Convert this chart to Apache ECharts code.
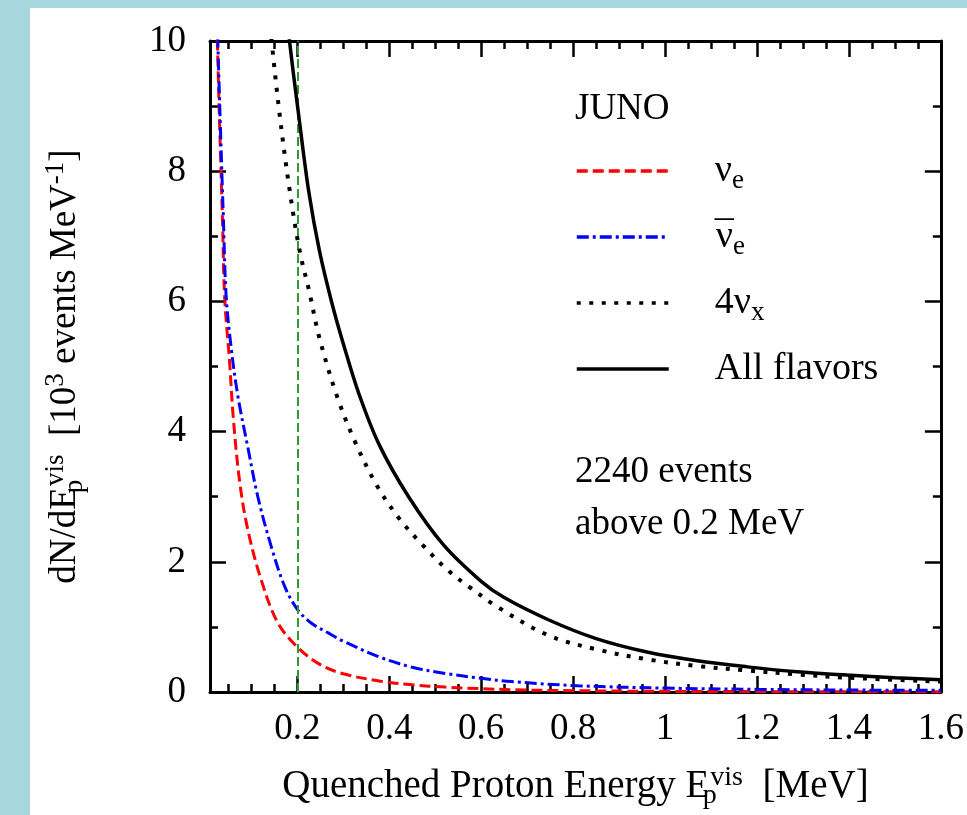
<!DOCTYPE html>
<html>
<head>
<meta charset="utf-8">
<script src="https://cdn.jsdelivr.net/npm/echarts@6/dist/echarts.min.js"></script>
<style>
  html, body { margin: 0; padding: 0; background: #a6d7df; }
  #chart { width: 967px; height: 815px; }
</style>
</head>
<body>
<div id="chart"></div>
<script>
// ---- data ----
const seriesNames = ['νe', 'ν̄e', '4νx', 'All flavors'];

const nueE = [0.021, 0.026, 0.031, 0.037, 0.042, 0.053, 0.060, 0.074, 0.092, 0.121, 0.157, 0.200, 0.250, 0.300, 0.378, 0.450, 0.522, 0.666, 0.800, 1.000, 1.200, 1.400, 1.600];
const nueY = [11.5, 10.0, 8.7, 7.3, 6.05, 5.03, 4.27, 3.26, 2.50, 1.73, 1.07, 0.69, 0.42, 0.28, 0.17, 0.11, 0.075, 0.035, 0.020, 0.010, 0.006, 0.004, 0.003];

const nuebarE = [0.022, 0.027, 0.033, 0.039, 0.045, 0.056, 0.071, 0.092, 0.114, 0.143, 0.172, 0.200, 0.230, 0.269, 0.300, 0.378, 0.450, 0.522, 0.600, 0.666, 0.810, 1.000, 1.200, 1.400, 1.600];
const nuebarY = [11.5, 10.0, 8.6, 7.3, 6.1, 5.29, 4.53, 3.77, 3.00, 2.24, 1.63, 1.27, 1.06, 0.90, 0.78, 0.54, 0.38, 0.285, 0.21, 0.16, 0.096, 0.060, 0.040, 0.030, 0.025];

const nuxE = [0.130, 0.144, 0.161, 0.182, 0.205, 0.226, 0.248, 0.287, 0.327, 0.374, 0.421, 0.471, 0.529, 0.573, 0.637, 0.746, 0.854, 0.963, 1.070, 1.179, 1.287, 1.396, 1.600];
const nuxY = [11.0, 10.0, 8.9, 7.77, 6.78, 6.15, 5.44, 4.53, 3.82, 3.16, 2.67, 2.27, 1.86, 1.62, 1.30, 0.87, 0.65, 0.50, 0.40, 0.33, 0.27, 0.22, 0.16];

const allE = [0.170, 0.183, 0.204, 0.225, 0.248, 0.275, 0.300, 0.334, 0.378, 0.442, 0.518, 0.600, 0.650, 0.746, 0.850, 0.963, 1.070, 1.179, 1.287, 1.396, 1.500, 1.600];
const allY = [10.9, 10.0, 8.8, 7.68, 6.78, 5.98, 5.35, 4.58, 3.80, 3.00, 2.26, 1.70, 1.45, 1.11, 0.82, 0.61, 0.48, 0.386, 0.31, 0.26, 0.22, 0.19];

const thresholdE = 0.2;

const xMajorTicks = [0.2, 0.4, 0.6, 0.8, 1.0, 1.2, 1.4, 1.6];
const xMinorTicks = [0.05, 0.1, 0.15, 0.25, 0.3, 0.35, 0.45, 0.5, 0.55, 0.65, 0.7, 0.75, 0.85, 0.9, 0.95, 1.05, 1.1, 1.15, 1.25, 1.3, 1.35, 1.45, 1.5, 1.55];
const xMin = 0.01, xMax = 1.6;
const yMin = 0, yMax = 10, yInterval = 2;

const annotJUNO = 'JUNO';
const annotLines = ['2240 events', 'above 0.2 MeV'];

// ---- chart ----
const FONT = 'Liberation Serif';
const pairs = (xs, ys) => xs.map((x, i) => [x, ys[i]]);

const chart = echarts.init(document.getElementById('chart'), null, { renderer: 'canvas' });

const tickStyle = { color: '#000', width: 2.5 };
const baseX = { type: 'value', min: xMin, max: xMax, splitLine: { show: false } };

function makeRich(fs) {
  const s = Math.round(fs * 0.72);
  return {
    t: { fontFamily: FONT, fontSize: fs, color: '#000', lineHeight: 46, verticalAlign: 'middle' },
    ov: { fontFamily: FONT, fontSize: fs, color: '#000', lineHeight: 46, verticalAlign: 'middle', width: 1 },
    sub: { fontFamily: FONT, fontSize: s, color: '#000', lineHeight: 22, verticalAlign: 'bottom' },
    subn: { fontFamily: FONT, fontSize: s, color: '#000', lineHeight: 22, verticalAlign: 'bottom', width: 1 },
    sup: { fontFamily: FONT, fontSize: s, color: '#000', lineHeight: 24, verticalAlign: 'top' }
  };
}

const legendLabels = {
  'νe': '{t|ν}{sub|e}',
  'ν̄e': '{ov|¯}{t|ν}{sub|e}',
  '4νx': '{t|4ν}{sub|x}',
  'All flavors': '{t|All flavors}'
};

const option = {
  backgroundColor: 'transparent',
  animation: false,
  graphic: [
    { type: 'rect', left: 30, top: 8, shape: { width: 937, height: 807 }, style: { fill: '#ffffff' }, z: -10, silent: true },
    { type: 'text', left: 575, top: 91, style: { text: annotJUNO, fontFamily: FONT, fontSize: 37, fill: '#000' } },
    { type: 'text', left: 575, top: 446, style: { text: annotLines.join('\n'), fontFamily: FONT, fontSize: 37, lineHeight: 52, fill: '#000' } }
  ],
  grid: { left: 210, right: 24, top: 41, bottom: 118, containLabel: false },
  legend: {
    data: seriesNames,
    orient: 'vertical',
    left: 575,
    top: 152,
    padding: 0,
    itemWidth: 92,
    itemHeight: 14,
    itemGap: 24,
    itemStyle: { opacity: 0 },
    lineStyle: { width: 3.5 },
    formatter: name => legendLabels[name],
    textStyle: { padding: [0, 0, 0, 41], rich: makeRich(38) }
  },
  xAxis: [
    Object.assign({}, baseX, {
      position: 'bottom',
      axisLine: { show: true, lineStyle: { color: '#000', width: 3 } },
      axisTick: { show: true, inside: true, length: 16, lineStyle: tickStyle, customValues: xMajorTicks },
      axisLabel: { show: true, customValues: xMajorTicks, fontFamily: FONT, fontSize: 37, color: '#000', margin: 19,
        formatter: v => String(Math.round(v * 10) / 10) },
      name: '{t|Quenched Proton Energy E}{subn|p}{sup|vis}{t|  [MeV]}',
      nameLocation: 'middle',
      nameGap: 72,
      nameTextStyle: { rich: makeRich(39) }
    }),
    Object.assign({}, baseX, {
      position: 'bottom',
      axisLine: { show: false },
      axisTick: { show: true, inside: true, length: 8, lineStyle: tickStyle, customValues: xMinorTicks },
      axisLabel: { show: false }
    }),
    Object.assign({}, baseX, {
      position: 'top',
      axisLine: { show: true, lineStyle: { color: '#000', width: 3 } },
      axisTick: { show: true, inside: true, length: 16, lineStyle: tickStyle, customValues: xMajorTicks },
      axisLabel: { show: false }
    }),
    Object.assign({}, baseX, {
      position: 'top',
      axisLine: { show: false },
      axisTick: { show: true, inside: true, length: 8, lineStyle: tickStyle, customValues: xMinorTicks },
      axisLabel: { show: false }
    })
  ],
  yAxis: [
    {
      type: 'value', position: 'left', min: yMin, max: yMax, interval: yInterval,
      splitLine: { show: false },
      axisLine: { show: true, lineStyle: { color: '#000', width: 3 } },
      axisTick: { show: true, inside: true, length: 16, lineStyle: tickStyle },
      minorTick: { show: true, splitNumber: 2, length: 8, lineStyle: tickStyle },
      axisLabel: { fontFamily: FONT, fontSize: 37, color: '#000', margin: 24 },
      name: '{t|dN/dE}{subn|p}{sup|vis}{t|  [10}{sup|3}{t| events MeV}{sup|-1}{t|]}',
      nameLocation: 'middle',
      nameGap: 122,
      nameTextStyle: { rich: makeRich(37) }
    },
    {
      type: 'value', position: 'right', min: yMin, max: yMax, interval: yInterval,
      splitLine: { show: false },
      axisLine: { show: true, lineStyle: { color: '#000', width: 3 } },
      axisTick: { show: true, inside: true, length: 16, lineStyle: tickStyle },
      minorTick: { show: true, splitNumber: 2, length: 8, lineStyle: tickStyle },
      axisLabel: { show: false }
    }
  ],
  series: [
    {
      name: seriesNames[0], type: 'line', xAxisIndex: 0, yAxisIndex: 0,
      data: pairs(nueE, nueY), symbol: 'none', smooth: 0.35, clip: true,
      lineStyle: { color: '#ff0000', width: 3, type: [11, 5] }, itemStyle: { color: '#ff0000' }, z: 3,
      markLine: {
        silent: true, symbol: 'none', label: { show: false },
        lineStyle: { color: '#2f9a2f', width: 2, type: [9, 4] },
        data: [{ xAxis: thresholdE }]
      }
    },
    {
      name: seriesNames[1], type: 'line', xAxisIndex: 0, yAxisIndex: 0,
      data: pairs(nuebarE, nuebarY), symbol: 'none', smooth: 0.35, clip: true,
      lineStyle: { color: '#0000ff', width: 3, type: [12, 4, 3, 4] }, itemStyle: { color: '#0000ff' }, z: 4
    },
    {
      name: seriesNames[2], type: 'line', xAxisIndex: 0, yAxisIndex: 0,
      data: pairs(nuxE, nuxY), symbol: 'none', smooth: 0.35, clip: true,
      lineStyle: { color: '#000000', width: 4, type: [4, 8.5] }, itemStyle: { color: '#000000' }, z: 5
    },
    {
      name: seriesNames[3], type: 'line', xAxisIndex: 0, yAxisIndex: 0,
      data: pairs(allE, allY), symbol: 'none', smooth: 0.35, clip: true,
      lineStyle: { color: '#000000', width: 3.5, type: 'solid' }, itemStyle: { color: '#000000' }, z: 6
    }
  ]
};
chart.setOption(option);
</script>
</body>
</html>
